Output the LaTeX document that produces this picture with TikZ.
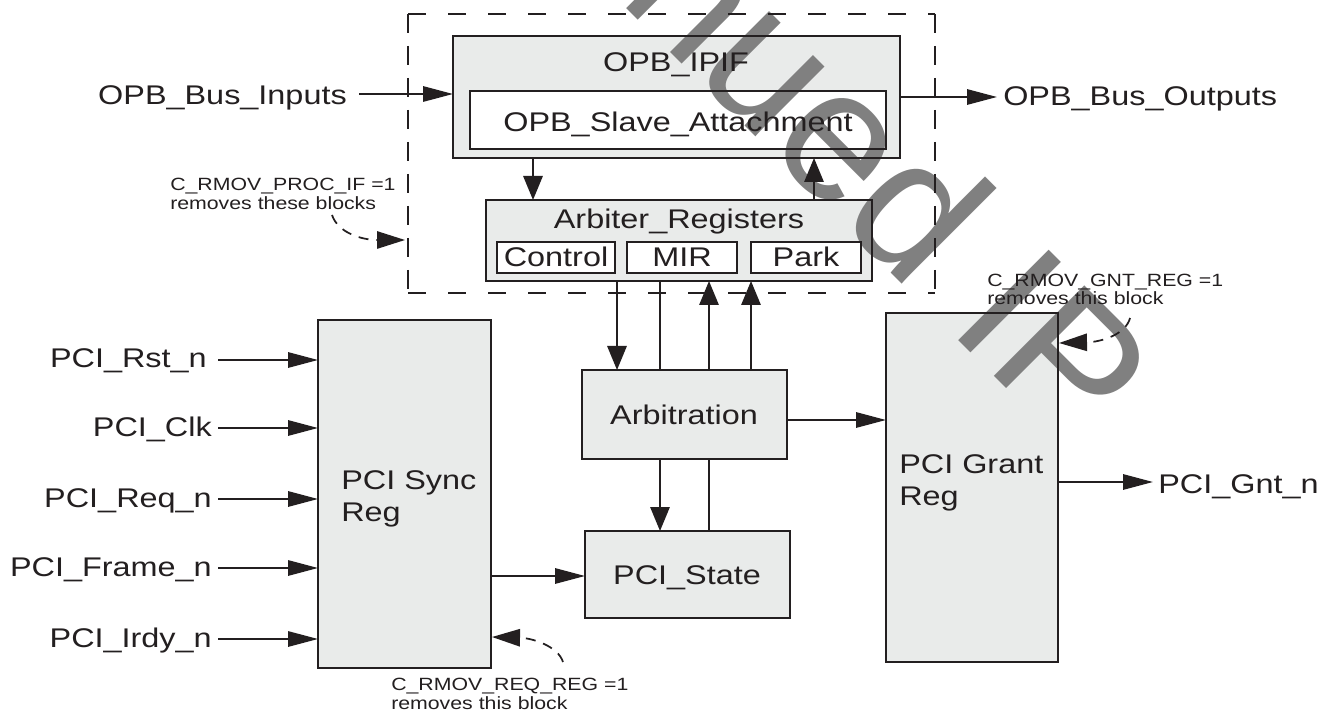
\documentclass[tikz,border=0pt]{standalone}
\usepackage{fontspec}
\setmainfont{Liberation Sans}[FakeStretch=1.2]
\newfontfamily\wmfont{Liberation Sans}
\usetikzlibrary{arrows.meta}
\definecolor{linec}{RGB}{35,31,32}
\definecolor{boxfill}{RGB}{233,235,234}
\definecolor{wmgray}{RGB}{128,128,128}
\pgfdeclarelayer{bg}
\pgfdeclarelayer{wm}
\pgfsetlayers{bg,wm,main}
\begin{document}
\begin{tikzpicture}[x=0.75pt,y=-0.75pt,
  box/.style={draw=linec, line width=2pt, rectangle, inner sep=0pt, outer sep=0pt, anchor=north west},
  big/.style={font=\fontsize{20.25}{24}\selectfont, text=linec, inner sep=0pt},
  small/.style={font=\fontsize{13.3}{14}\selectfont, text=linec, inner sep=0pt},
  conn/.style={draw=linec, line width=1.5pt},
  harr/.style={conn, -{Triangle[length=22.5pt,width=11.5pt]}},
  varr/.style={conn, -{Triangle[length=18pt,width=14.5pt]}},
  note/.style={draw=linec, line width=1.3pt, dash pattern=on 7.5pt off 6pt, -{Triangle[length=21pt,width=13pt]}},
  grpH/.style={draw=linec, line width=1.6pt, dash pattern=on 13.5pt off 16.5pt},
  grpV/.style={draw=linec, line width=1.6pt, dash pattern=on 14.25pt off 9.75pt},
  wm/.style={font=\wmfont\fontsize{139.5}{140}\selectfont, text=wmgray, inner sep=0pt, rotate=-45, anchor=base west}
]
\useasboundingbox (0,0) rectangle (1333,712);

% group (dashed) outline
\coordinate (gTL) at (408,14);
\coordinate (gBR) at (935,293);
\draw[grpH] (gTL) -- (gTL -| gBR);
\draw[grpH] (gTL |- gBR) -- (gBR);
\draw[grpV] (gTL) -- (gTL |- gBR);
\draw[grpV] (gTL -| gBR) -- (gBR);

% boxes
\node[box, minimum width=335.25pt, minimum height=91.5pt] (ipif) at (453,36) {};
\node[box, minimum width=312pt, minimum height=43.5pt] (slave) at (470,91) {};
\node[box, minimum width=289.5pt, minimum height=60.75pt] (areg) at (486,200) {};
\node[box, minimum width=88.5pt, minimum height=23.25pt] (ctrl) at (497,242) {};
\node[box, minimum width=82.5pt, minimum height=23.25pt] (mir) at (627,242) {};
\node[box, minimum width=82.5pt, minimum height=23.25pt] (park) at (751,242) {};
\node[box, minimum width=129.75pt, minimum height=261pt] (sync) at (318,320) {};
\node[box, minimum width=153.75pt, minimum height=66.75pt] (arb) at (582,370) {};
\node[box, minimum width=153.75pt, minimum height=65.25pt] (state) at (585,531) {};
\node[box, minimum width=129pt, minimum height=261.75pt] (grant) at (886,313) {};

\begin{pgfonlayer}{bg}
  \fill[white] (0,0) rectangle (1333,712);
  \foreach \b in {ipif,areg,sync,arb,state,grant}
    \fill[boxfill] (\b.north west) rectangle (\b.south east);
  \foreach \b in {slave,ctrl,mir,park}
    \fill[white] (\b.north west) rectangle (\b.south east);
\end{pgfonlayer}

\begin{pgfonlayer}{wm}
  \node[wm] (wmark) at (150,-468) {Discontinued IP};
\end{pgfonlayer}

% box labels
\node[big, anchor=base] (ipifT) at (676,72) {OPB\_IPIF};
\node[big, anchor=base] (slaveT) at (678,132) {OPB\_Slave\_Attachment};
\node[big, anchor=base] (aregT) at (679,229) {Arbiter\_Registers};
\node[big, anchor=base] (ctrlT) at (556,267) {Control};
\node[big, anchor=base] (mirT) at (682,267) {MIR};
\node[big, anchor=base] (parkT) at (806,267) {Park};
\node[big, anchor=base] (arbT) at (684,424) {Arbitration};
\node[big, anchor=base] (stateT) at (687,584) {PCI\_State};
\node[big, anchor=base west] (syncT1) at (341,489) {PCI Sync};
\node[big, anchor=base west] (syncT2) at (341,521) {Reg};
\node[big, anchor=base west] (grantT1) at (899,473) {PCI Grant};
\node[big, anchor=base west] (grantT2) at (899,505) {Reg};

% port labels
\node[big, anchor=base east] (inT) at (347,105) {OPB\_Bus\_Inputs};
\node[big, anchor=base west] (outT) at (1003,106) {OPB\_Bus\_Outputs};
\node[big, anchor=base west] (gntT) at (1158,493) {PCI\_Gnt\_n};
\node[big, anchor=base east] (rstT) at (207,368) {PCI\_Rst\_n};
\node[big, anchor=base east] (clkT) at (212,436) {PCI\_Clk};
\node[big, anchor=base east] (reqT) at (212,507) {PCI\_Req\_n};
\node[big, anchor=base east] (frmT) at (212,576) {PCI\_Frame\_n};
\node[big, anchor=base east] (irdT) at (212,647) {PCI\_Irdy\_n};

% notes
\node[small, anchor=base west] (n1a) at (170,191) {C\_RMOV\_PROC\_IF =1};
\node[small, anchor=base west] (n1b) at (170,210) {removes these blocks};
\node[small, anchor=base west] (n3a) at (987,287) {C\_RMOV\_GNT\_REG =1};
\node[small, anchor=base west] (n3b) at (987,305) {removes this block};
\node[small, anchor=base west] (n2a) at (391,690) {C\_RMOV\_REQ\_REG =1};
\node[small, anchor=base west] (n2b) at (391,709) {removes this block};

% OPB bus connectors
\coordinate (inS) at (359,94);
\draw[harr] (inS) -- (inS -| ipif.west);
\coordinate (outE) at (997,97);
\draw[harr] (ipif.east |- outE) -- (outE);

% vertical connectors
\coordinate (c1) at (533,0);
\coordinate (c2) at (814,0);
\coordinate (c3) at (617,0);
\coordinate (c4) at (660,0);
\coordinate (c5) at (709,0);
\coordinate (c6) at (751,0);
\draw[varr] (ipif.south -| c1) -- (areg.north -| c1);
\draw[varr] (areg.north -| c2) -- (ipif.south -| c2);
\draw[varr] (areg.south -| c3) -- (arb.north -| c3);
\draw[conn] (areg.south -| c4) -- (arb.north -| c4);
\draw[varr] (arb.north -| c5) -- (areg.south -| c5);
\draw[varr] (arb.north -| c6) -- (areg.south -| c6);
\draw[varr] (arb.south -| c4) -- (state.north -| c4);
\draw[conn] (state.north -| c5) -- (arb.south -| c5);

% horizontal connectors
\coordinate (r1) at (0,420);
\draw[harr] (arb.east |- r1) -- (grant.west |- r1);
\coordinate (r2) at (0,576);
\draw[harr] (sync.east |- r2) -- (state.west |- r2);
\coordinate (gE) at (1153,482);
\draw[harr] (grant.east |- gE) -- (gE);

% PCI inputs
\foreach \y/\n in {360/rst,428/clk,499/req,568/frm,639/ird}{
  \coordinate (s\n) at (218,\y);
  \draw[harr] (s\n) -- (s\n -| sync.west);
}

% dashed note arrows
\coordinate (n1s) at (332,215);
\coordinate (n1e) at (405,240);
\draw[note] (n1s) .. controls (338,233) and (362,240) .. (n1e);
\coordinate (n2s) at (563,662);
\coordinate (n2e) at (492,637);
\draw[note] (n2s) .. controls (558,646) and (532,638) .. (n2e);
\coordinate (n3s) at (1130,318);
\coordinate (n3e) at (1059,343);
\draw[note] (n3s) .. controls (1126,334) and (1102,342) .. (n3e);
\end{tikzpicture}
\end{document}
